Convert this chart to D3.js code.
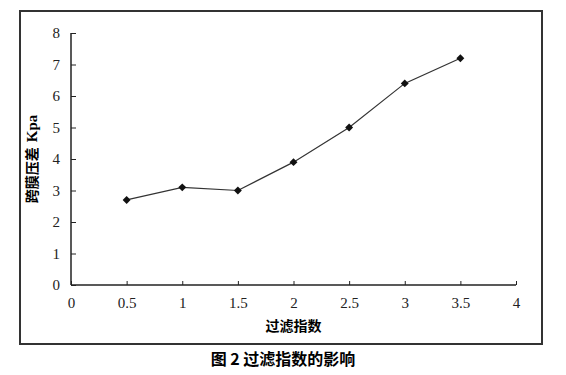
<!DOCTYPE html>
<html>
<head>
<meta charset="utf-8">
<script src="https://cdn.jsdelivr.net/npm/d3@7/dist/d3.min.js"></script>
<style>
  body { margin: 0; background: #fff; }
  .tick text { font-family: "Liberation Serif", "DejaVu Serif", serif; font-size: 15px; fill: #222; }
</style>
</head>
<body>
<div id="chart"></div>
<script>
// data
var xValues = [0.5, 1, 1.5, 2, 2.5, 3, 3.5];
var yValues = [2.7, 3.1, 3.0, 3.9, 5.0, 6.4, 7.2];
var xTicks = [0, 0.5, 1, 1.5, 2, 2.5, 3, 3.5, 4];
var yTicks = [0, 1, 2, 3, 4, 5, 6, 7, 8];

var width = 566, height = 375;
var plotLeft = 71, plotRight = 516, plotTop = 33, plotBottom = 285;

var svg = d3.select("#chart").append("svg")
    .attr("width", width)
    .attr("height", height);

// outer frame
svg.append("rect")
    .attr("x", 20).attr("y", 11)
    .attr("width", 522).attr("height", 333)
    .style("fill", "none")
    .style("stroke", "#333")
    .style("stroke-width", 2);

var x = d3.scaleLinear().domain([0, 4]).range([plotLeft, plotRight]);
var y = d3.scaleLinear().domain([0, 8]).range([plotBottom, plotTop]);

// x axis, ticks pointing up
var xAxis = svg.append("g")
    .attr("transform", "translate(0," + plotBottom + ")")
    .call(d3.axisBottom(x).tickValues(xTicks).tickSize(-4).tickPadding(12)
        .tickFormat(d3.format("")));
xAxis.select(".domain").attr("d", "M" + plotLeft + ",0H" + plotRight).style("stroke", "#222").style("stroke-width", 1.5);
xAxis.selectAll(".tick line").style("stroke", "#222");

// y axis, ticks pointing right
var yAxis = svg.append("g")
    .attr("transform", "translate(" + plotLeft + ",0)")
    .call(d3.axisLeft(y).tickValues(yTicks).tickSize(-5).tickPadding(11));
yAxis.select(".domain").attr("d", "M0," + plotTop + "V" + plotBottom).style("stroke", "#222").style("stroke-width", 1.5);
yAxis.selectAll(".tick line").style("stroke", "#222");

// line
var line = d3.line()
    .x(function(d, i) { return x(xValues[i]); })
    .y(function(d) { return y(d); });

svg.append("path")
    .datum(yValues)
    .attr("d", line)
    .style("fill", "none")
    .style("stroke", "#333")
    .style("stroke-width", 1.2);

// diamond markers
svg.selectAll(".pt")
    .data(yValues)
    .enter().append("path")
    .attr("class", "pt")
    .attr("transform", function(d, i) { return "translate(" + x(xValues[i]) + "," + y(d) + ") rotate(45)"; })
    .attr("d", "M-2.8,-2.8H2.8V2.8H-2.8Z")
    .style("fill", "#111");

// axis titles
var yTitle = svg.append("text")
    .attr("transform", "translate(37," + ((plotTop + plotBottom) / 2) + ") rotate(-90)")
    .attr("text-anchor", "middle")
    .style("font-family", "'Noto Sans CJK SC', sans-serif")
    .style("font-weight", "bold")
    .style("font-size", "14px");
yTitle.append("tspan").text("跨膜压差");
yTitle.append("tspan")
    .attr("dx", 5)
    .style("font-family", "'Liberation Serif', serif")
    .style("font-size", "15px")
    .text("Kpa");

svg.append("text")
    .attr("x", (plotLeft + plotRight) / 2)
    .attr("y", 331)
    .attr("text-anchor", "middle")
    .style("font-family", "'Noto Sans CJK SC', sans-serif")
    .style("font-weight", "bold")
    .style("font-size", "14px")
    .text("过滤指数");

// caption
svg.append("text")
    .attr("x", 283)
    .attr("y", 365)
    .attr("text-anchor", "middle")
    .style("font-family", "'Noto Sans CJK SC', sans-serif")
    .style("font-weight", "bold")
    .style("font-size", "16px")
    .text("图 2 过滤指数的影响");
</script>
</body>
</html>
